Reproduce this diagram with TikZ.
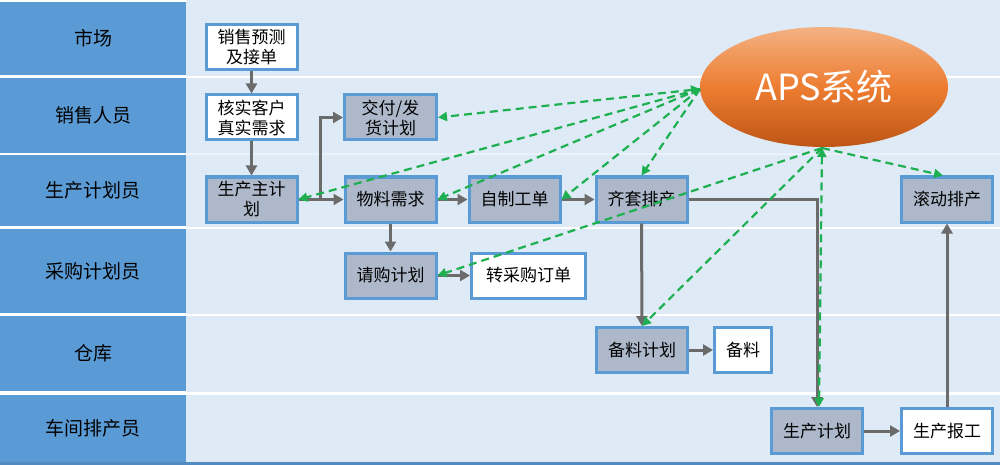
\documentclass[tikz,border=0pt]{standalone}
\usepackage{fontspec}
\setmainfont{Noto Sans CJK SC}
\usetikzlibrary{shapes.geometric,arrows.meta}
\definecolor{laneblue}{RGB}{91,155,213}
\definecolor{panelblue}{RGB}{222,235,247}
\definecolor{boxgray}{RGB}{173,185,202}
\definecolor{linegray}{RGB}{107,107,107}
\definecolor{apsgreen}{RGB}{30,175,80}
\definecolor{apslight}{RGB}{244,177,131}
\definecolor{apsmid}{RGB}{237,125,49}
\definecolor{apsdark}{RGB}{190,85,22}

\begin{document}
\begin{tikzpicture}[x=1pt,y=-1pt,
  box/.style={draw=laneblue,line width=3pt,fill=white,minimum width=91pt,minimum height=45pt,
    inner sep=1pt,align=center,font=\fontsize{17}{20}\selectfont},
  graybox/.style={box,fill=boxgray},
  aps/.style={ellipse,minimum width=248pt,minimum height=120pt,inner sep=0pt,
    top color=apslight,bottom color=apsdark,middle color=apsmid,text=white,
    font=\fontsize{36}{40}\selectfont},
  lanelabel/.style={font=\fontsize{19}{22}\selectfont},
  flow/.style={draw=linegray,line width=3pt,-{Triangle[length=10pt,width=11pt]}},
  link/.style={draw=apsgreen,line width=2.2pt,dash pattern=on 8pt off 5pt,
    -{Triangle[length=9pt,width=9pt]}},
  twoway/.style={{Triangle[length=9pt,width=9pt]}-{Triangle[length=9pt,width=9pt]}}]
  \useasboundingbox (0,0) rectangle (1000,465);

  % swim lanes
  \fill[panelblue] (186,0) rectangle (1000,462);
  \foreach \ysep in {77,228,315,393.5}
    \draw[white,line width=2.5pt] (186,\ysep) -- (1000,\ysep);
  \draw[white!40!panelblue,line width=1.5pt] (186,154) -- (1000,154);
  \fill[laneblue!90!black] (0,462) rectangle (1000,465);
  \foreach \ytop/\ybot/\txt [count=\i] in {2/75/市场,78/153/销售人员,155/226/生产计划员,
      229/313/采购计划员,316/391/仓库,395/462/车间排产员} {
    \fill[laneblue] (0,\ytop) rectangle (186,\ybot);
    \node[lanelabel] (lane\i) at (93,{(\ytop+\ybot)/2}) {\txt};
  }

  % APS
  \node[aps] (apssys) at (824,87) {APS系统};
  \coordinate (apsW) at (700,89);
  \coordinate (apsS) at (822,148);

  % boxes
  \node[box] (forecast) at (251.5,47) {销售预测\\及接单};
  \node[box] (verify) at (251.5,117.5) {核实客户\\真实需求};
  \node[graybox] (mps) at (251.5,199.5) {生产主计\\划};
  \node[graybox,minimum width=92pt] (ship) at (390.5,117.5) {交付/发\\货计划};
  \node[graybox] (mrp) at (390.5,199.5) {物料需求};
  \node[graybox] (wo) at (514.5,199.5) {自制工单};
  \node[graybox] (kit) at (641.5,199.5) {齐套排产};
  \node[graybox] (roll) at (947,199.5) {滚动排产};
  \node[graybox] (pr) at (390.5,275.5) {请购计划};
  \node[box,minimum width=114pt] (po) at (528.5,275.5) {转采购订单};
  \node[graybox] (prep) at (642,350) {备料计划};
  \node[box,minimum width=57pt] (mat) at (743,350) {备料};
  \node[graybox] (plan) at (817,431) {生产计划};
  \node[box] (report) at (947,431) {生产报工};

  % flow
  \coordinate (fork) at ([xshift=22pt]mps.east);
  \draw[flow] (forecast) -- (verify);
  \draw[flow] (verify) -- (mps);
  \draw[flow] (mps) -- (mrp);
  \draw[flow] (fork) |- (ship);
  \draw[flow] (mrp) -- (wo);
  \draw[flow] (wo) -- (kit);
  \draw[flow] (mrp) -- (pr);
  \draw[flow] (pr) -- (po);
  \draw[flow] (kit) -- (prep);
  \draw[flow] (prep) -- (mat);
  \draw[flow] (kit) -| (plan);
  \draw[flow] (plan) -- (report);
  \draw[flow] (report) -- (roll);

  % APS links
  \draw[link,twoway] (apsW) -- (ship.east);
  \draw[link] (apsW) -- (mps.east);
  \draw[link] (apsW) -- (mrp.east);
  \draw[link] (apsW) -- (wo.east);
  \draw[link] (apsW) -- (kit.north);
  \draw[link] (apsS) -- (pr.east);
  \draw[link] (apsS) -- (prep.north);
  \draw[link,twoway] (apsS) -- ([xshift=2pt]plan.north);
  \draw[link] (apsS) -- ([xshift=-4pt]roll.north);
\end{tikzpicture}
\end{document}
